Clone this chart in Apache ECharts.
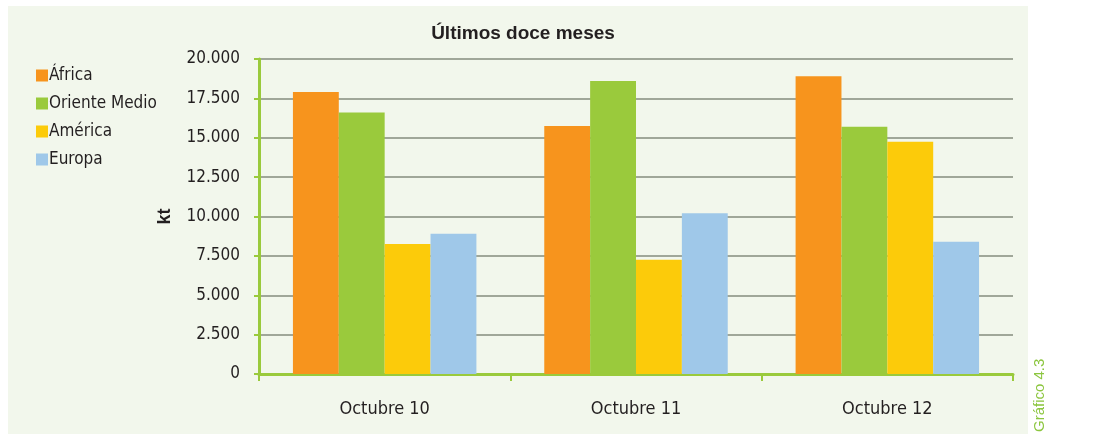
<!DOCTYPE html>
<html>
<head>
<meta charset="utf-8">
<script src="https://cdn.jsdelivr.net/npm/echarts@6/dist/echarts.min.js"></script>
<style>
  html, body { margin: 0; padding: 0; background: #ffffff; }
  #chart { width: 1099px; height: 434px; }
</style>
</head>
<body>
<div id="chart"></div>
<script>
// Valores en kt
const categories = ["Octubre 10", "Octubre 11", "Octubre 12"];
const africa = [17900, 15750, 18900];
const orienteMedio = [16600, 18600, 15700];
const america = [8250, 7250, 14750];
const europa = [8900, 10200, 8400];
const seriesNames = ["África", "Oriente Medio", "América", "Europa"];
const colors = ["#f7941d", "#9aca3c", "#fccb0a", "#9fc8e9"];

const labelFont = "'Liberation Sans Narrow', 'DejaVu Sans Condensed', sans-serif";

function fmt(v) {
    return String(v).replace(/\B(?=(\d{3})+(?!\d))/g, ".");
}

const chart = echarts.init(document.getElementById("chart"));

const data = [africa, orienteMedio, america, europa];
let series = [];
for (let i = 0; i < data.length; i++) {
    series.push({
        name: seriesNames[i],
        type: "bar",
        data: data[i],
        barGap: "0%",
        barCategoryGap: "27%",
        itemStyle: { color: colors[i] }
    });
}

chart.setOption({
    animation: false,
    backgroundColor: "#ffffff",
    graphic: [
        {
            type: "rect",
            z: -10,
            shape: { x: 8, y: 6, width: 1020, height: 428 },
            style: { fill: "#f2f7ec" }
        },
        {
            type: "text",
            x: 1040, y: 432,
            rotation: Math.PI / 2,
            style: {
                text: "Gráfico 4.3",
                fill: "#8cc63f",
                font: "15px 'Liberation Sans', Arial, sans-serif",
                textAlign: "left",
                textVerticalAlign: "middle"
            }
        }
    ],
    title: {
        text: "Últimos doce meses",
        left: 518,
        top: 19,
        textAlign: "center",
        textStyle: {
            fontFamily: "'Liberation Sans', Arial, sans-serif",
            fontWeight: "bold",
            fontSize: 19,
            color: "#231f20"
        }
    },
    legend: {
        orient: "vertical",
        left: 31,
        top: 62,
        itemWidth: 12,
        itemHeight: 12,
        itemGap: 11,
        icon: "rect",
        data: seriesNames,
        textStyle: {
            fontFamily: labelFont,
            fontSize: 17,
            lineHeight: 16,
            color: "#231f20",
            padding: [0, 0, 0, -4]
        }
    },
    grid: { left: 259, right: 86, top: 59, bottom: 60 },
    xAxis: {
        type: "category",
        data: categories,
        axisLine: { lineStyle: { color: "#9aca3c", width: 3 } },
        axisTick: { show: true, length: 7, lineStyle: { color: "#9aca3c", width: 2 } },
        axisLabel: {
            fontFamily: labelFont,
            fontSize: 18,
            color: "#231f20",
            margin: 26
        }
    },
    yAxis: {
        type: "value",
        min: 0,
        max: 20000,
        interval: 2500,
        name: "kt",
        nameLocation: "middle",
        nameGap: 85,
        nameRotate: 90,
        nameTextStyle: {
            fontFamily: "'Liberation Sans', Arial, sans-serif",
            fontWeight: "bold",
            fontSize: 18,
            color: "#231f20"
        },
        axisLine: { show: true, lineStyle: { color: "#9aca3c", width: 3 } },
        axisTick: { show: true, length: 5, lineStyle: { color: "#9aca3c", width: 2 } },
        axisLabel: {
            formatter: fmt,
            fontFamily: labelFont,
            fontSize: 17,
            color: "#231f20",
            margin: 19
        },
        splitLine: { lineStyle: { color: "#858c7e", width: 1.5 } }
    },
    series: series
});
</script>
</body>
</html>
